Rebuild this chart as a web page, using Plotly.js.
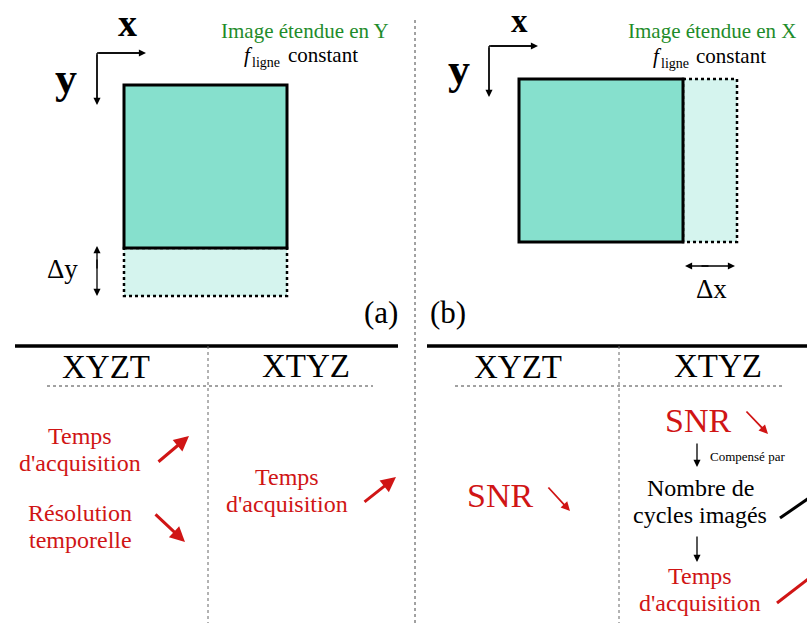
<!DOCTYPE html>
<html><head><meta charset="utf-8">
<script src="https://cdn.plot.ly/plotly-3.0.1.min.js"></script>
<style>html,body{margin:0;padding:0;background:#fff;}#plot{width:807px;height:623px;}</style>
</head><body><div id="plot"></div>
<script>
// ---- content (text) ----
const panelTags = ["(a)", "(b)"];
const panelTitles = ["Image étendue en Y", "Image étendue en X"];
const subParts = ["f", "ligne", "constant"];
const axisLetters = ["x", "y"];
const deltaLabels = ["Δy", "Δx"];
const tableHeaders = ["XYZT", "XTYZ"];
const cellA1 = ["Temps", "d'acquisition"];
const cellA2 = ["Résolution", "temporelle"];
const cellA3 = ["Temps", "d'acquisition"];
const cellB1 = ["SNR"];
const cellB2 = ["SNR"];
const cellB3 = ["Nombre de", "cycles imagés"];
const cellB4 = ["Temps", "d'acquisition"];
const smallNote = "Compensé par";

const RED = "#d01515", GREEN = "#1e8c2a", TEAL = "#86e0cd", TEAL_L = "#d5f4ee";
const SERIF = "Liberation Serif";

const shapes = [];
const ann = [];
function rect(x0,y0,x1,y1,fill,lw,dash){shapes.push({type:"rect",xref:"x",yref:"y",x0,y0,x1,y1,fillcolor:fill,line:{color:"#000",width:lw,dash:dash||"solid"},layer:"below"});}
function line(x0,y0,x1,y1,w,dash,color){shapes.push({type:"line",xref:"x",yref:"y",x0,y0,x1,y1,line:{color:color||"#000",width:w,dash:dash||"solid"}});}
function text(x,y,t,size,color,o){o=o||{};const f={family:SERIF,size:size,color:color||"#000"};if(o.weight)f.weight=o.weight;if(o.style)f.style=o.style;ann.push({x,y,xref:"x",yref:"y",text:t,showarrow:false,xanchor:o.anchor||"center",yanchor:o.vanchor||"middle",font:f});}
function lines(x,ys,arr,size,color){arr.forEach((t,i)=>text(x,ys[i],t,size,color));}
function arrow(x0,y0,x1,y1,color,w,size){ann.push({x:x1,y:y1,ax:x0,ay:y0,xref:"x",yref:"y",axref:"x",ayref:"y",text:"",showarrow:true,arrowhead:2,arrowsize:size||1,arrowwidth:w,arrowcolor:color});}

// ---- panel (a) ----
rect(124,248,287,296,TEAL_L,2.5,"dot");
rect(124,85,287,248,TEAL,3);
text(127,23,axisLetters[0],38,"#000",{weight:"bold"});
text(66,78,axisLetters[1],44,"#000",{weight:"bold"});
line(97,53,140,53,1.3); line(97,53,97,100,1.3);
arrow(97,53,146,53,"#000",1.3,1.1); arrow(97,53,97,105,"#000",1.3,1.1);
text(305,31,panelTitles[0],21,GREEN);
text(242,55,subParts[0],21,"#000",{anchor:"left",style:"italic"});
text(250,62,subParts[1],14,"#000",{anchor:"left"});
text(286,55,subParts[2],21,"#000",{anchor:"left"});
text(62,269,deltaLabels[0],27);
arrow(97,270,97,246,"#000",1.3,1.1); arrow(97,258,97,296,"#000",1.3,1.1);
text(381,312,panelTags[0],31);

// ---- panel (b) ----
rect(683,79,737,242,TEAL_L,2.5,"dot");
rect(519,79,683,242,TEAL,3);
text(519,0.5,axisLetters[0],33,"#000",{weight:"bold",vanchor:"top"});
text(459,69,axisLetters[1],44,"#000",{weight:"bold"});
line(489,46,532,46,1.3); line(489,46,489,92,1.3);
arrow(489,46,538,46,"#000",1.3,1.1); arrow(489,46,489,97,"#000",1.3,1.1);
text(712,31,panelTitles[1],21,GREEN);
text(651,56,subParts[0],21,"#000",{anchor:"left",style:"italic"});
text(659,63,subParts[1],14,"#000",{anchor:"left"});
text(694,56,subParts[2],21,"#000",{anchor:"left"});
arrow(710,266,685,266,"#000",1.3,1.1); arrow(700,266,735,266,"#000",1.3,1.1);
text(711,289,deltaLabels[1],27);
text(448,312,panelTags[1],31);

// divider between panels
line(415,20,415,623,1,"dot","#444");

// ---- tables ----
line(15,346,398,346,3.5); line(427,346,807,346,3.5);
line(208,346,208,623,1,"dot","#666"); line(619,346,619,623,1,"dot","#666");
line(47,386,373,386,1,"dot","#444"); line(455,386,782,386,1,"dot","#444");
text(106,367,tableHeaders[0],33); text(306,366,tableHeaders[1],33);
text(518,367,tableHeaders[0],33); text(718,366,tableHeaders[1],33);

// table (a)
lines(80,[435.5,462.5],cellA1,24,RED);
arrow(157,463,189,436,RED,3,1);
lines(80,[512.5,539.5],cellA2,24,RED);
arrow(154,513,185,542,RED,3,1);
lines(287,[477,504],cellA3,24,RED);
arrow(363,503,396,477,RED,3,1);

// table (b)
lines(500,[495],cellB1,34,RED);
arrow(547,486,570,511,RED,1.8,1);
lines(698,[420],cellB2,34,RED);
arrow(745,410,768,434,RED,1.8,1);
arrow(697,442,697,467,"#000",1.3,1.1);
text(747,456,smallNote,13,"#000");
lines(700,[488,515],cellB3,24,"#000");
line(780,518,812,496,3);
arrow(697,535,697,562,"#000",1.3,1.1);
lines(700,[576,603],cellB4,24,RED);
line(777,603,812,576,3,"solid",RED);

const layout = {
  width:807,height:623,margin:{l:0,r:0,t:0,b:0},
  paper_bgcolor:"#fff",plot_bgcolor:"#fff",showlegend:false,
  xaxis:{range:[0,807],visible:false,fixedrange:true},
  yaxis:{range:[623,0],visible:false,fixedrange:true},
  shapes,annotations:ann
};
Plotly.newPlot("plot",[],layout,{staticPlot:true,displayModeBar:false});
</script></body></html>
